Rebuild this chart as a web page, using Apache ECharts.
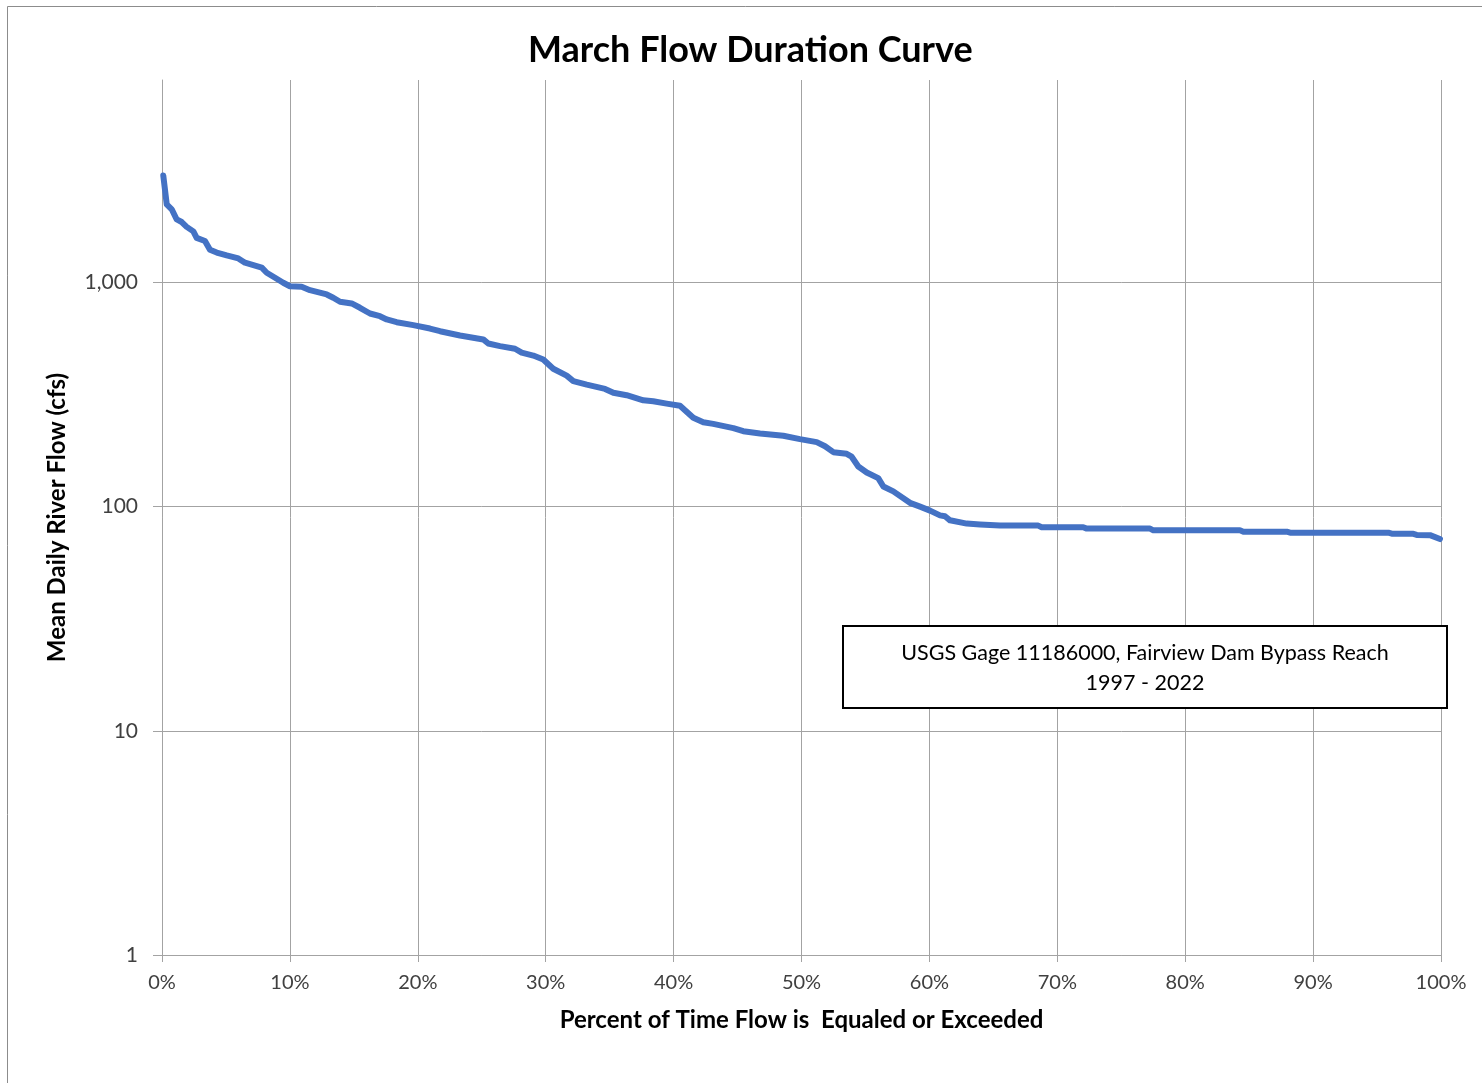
<!DOCTYPE html>
<html>
<head>
<meta charset="utf-8">
<script src="https://cdn.jsdelivr.net/npm/echarts@6/dist/echarts.min.js"></script>
<style>
html,body{margin:0;padding:0;background:#fff;}
#chart{width:1482px;height:1083px;}
</style>
</head>
<body>
<div id="chart"></div>
<script>
// Percent of time flow is equaled or exceeded (x) and mean daily flow in cfs (y)
const pctExceeded = [0.1,0.37,0.76,1.15,1.54,1.93,2.45,2.71,3.36,3.75,
  4.28,5.06,5.97,6.49,7.80,8.19,8.84,9.48,10.0,10.92,
  11.57,12.88,13.39,13.92,14.83,15.48,16.26,17.04,17.57,18.35,
  19.65,20.95,21.74,23.30,25.12,25.51,26.43,27.60,28.12,29.03,
  29.81,30.59,31.64,32.16,33.21,34.64,35.29,36.33,37.63,38.41,
  39.46,40.50,41.54,42.32,43.10,44.67,45.45,46.76,48.58,49.88,
  51.19,51.84,52.49,53.53,53.92,54.44,55.10,56.00,56.40,57.18,
  58.48,59.27,60.05,60.83,61.22,61.61,62.92,63.96,65.52,68.51,
  68.78,72.03,72.30,77.25,77.51,84.28,84.55,87.94,88.20,95.88,
  96.15,97.84,98.10,99.14,99.92];
const flowCfs = [3000,2230,2120,1910,1860,1770,1690,1580,1530,1400,
  1360,1320,1280,1225,1165,1105,1050,997,962,957,
  924,884,855,820,806,771,727,707,684,665,
  645,623,606,580,557,534,520,506,486,472,
  453,412,384,363,350,335,322,314,298,295,
  288,282,249,238,234,224,217,212,207,200,
  194,186,175,172,167,151,142,134,123,117,
  104,100,96,91.4,90.6,86.9,84.0,83.2,82.3,82.3,
  80.9,80.9,79.8,79.8,78.4,78.4,77.3,77.3,76.5,76.5,
  75.7,75.6,74.8,74.6,71.7];
const yTickValues = [1, 10, 100, 1000];
const xTickStep = 10;

const titleText = 'March Flow Duration Curve';
const xAxisName = 'Percent of Time Flow is  Equaled or Exceeded';
const yAxisName = 'Mean Daily River Flow (cfs)';
const noteLines = ['USGS Gage 11186000, Fairview Dam Bypass Reach', '1997 - 2022'];

const FONT = 'Lato, "Open Sans", sans-serif';
const GRID = '#a3a3a3';

const seriesData = pctExceeded.map((p, i) => [p, flowCfs[i]]);

const chart = echarts.init(document.getElementById('chart'), null, {renderer: 'canvas'});
chart.setOption({
  animation: false,
  backgroundColor: '#fff',
  title: {
    text: titleText, left: 523, top: 27,
    textStyle: {fontFamily: FONT, fontWeight: 'bold', fontSize: 36, color: '#000'}
  },
  grid: {left: 162, right: 41, top: 80, bottom: 128, containLabel: false},
  xAxis: {
    type: 'value', min: 0, max: 100, interval: xTickStep,
    name: xAxisName, nameLocation: 'middle', nameGap: 53,
    nameTextStyle: {fontFamily: FONT, fontWeight: 'bold', fontSize: 24, color: '#000'},
    axisLine: {show: true, lineStyle: {color: GRID, width: 1}},
    axisTick: {show: true, length: 7, lineStyle: {color: GRID}},
    splitLine: {show: true, lineStyle: {color: GRID, width: 1}},
    axisLabel: {formatter: '{value}%', fontFamily: FONT, fontSize: 20, color: '#404040', margin: 18}
  },
  yAxis: {
    type: 'log', logBase: 10, min: 1, max: 8000,
    name: yAxisName, nameLocation: 'middle', nameGap: 93, nameRotate: 90,
    nameTextStyle: {fontFamily: FONT, fontWeight: 'bold', fontSize: 24, color: '#000'},
    axisLine: {show: true, lineStyle: {color: GRID, width: 1}},
    axisTick: {show: true, length: 9, lineStyle: {color: GRID}, customValues: yTickValues},
    splitLine: {show: true, lineStyle: {color: GRID, width: 1}},
    axisLabel: {
      customValues: yTickValues,
      fontFamily: FONT, fontSize: 21, color: '#404040', margin: 24,
      formatter: v => Number(v).toLocaleString('en-US')
    }
  },
  series: [{
    type: 'line', data: seriesData, showSymbol: false, smooth: false,
    lineStyle: {color: '#4472C4', width: 6, join: 'round', cap: 'round'},
    itemStyle: {color: '#4472C4'}, z: 5
  }],
  graphic: [
    {type: 'rect', shape: {x: 7.5, y: 6.5, width: 1490, height: 1095}, style: {fill: 'none', stroke: '#8c8c8c', lineWidth: 1}, z: 0, silent: true},
    {type: 'rect', shape: {x: 843, y: 626, width: 604, height: 82}, style: {fill: '#fff', stroke: '#000', lineWidth: 2}, z: 10},
    {type: 'text', x: 1145, y: 653, z: 11,
      style: {text: noteLines[0], fontFamily: FONT, fontSize: 21.5, fill: '#000', align: 'center', verticalAlign: 'middle', textAlign: 'center', textVerticalAlign: 'middle'}},
    {type: 'text', x: 1145, y: 683, z: 11,
      style: {text: noteLines[1], fontFamily: FONT, fontSize: 21.5, fill: '#000', align: 'center', verticalAlign: 'middle', textAlign: 'center', textVerticalAlign: 'middle'}}
  ]
});
</script>
</body>
</html>
